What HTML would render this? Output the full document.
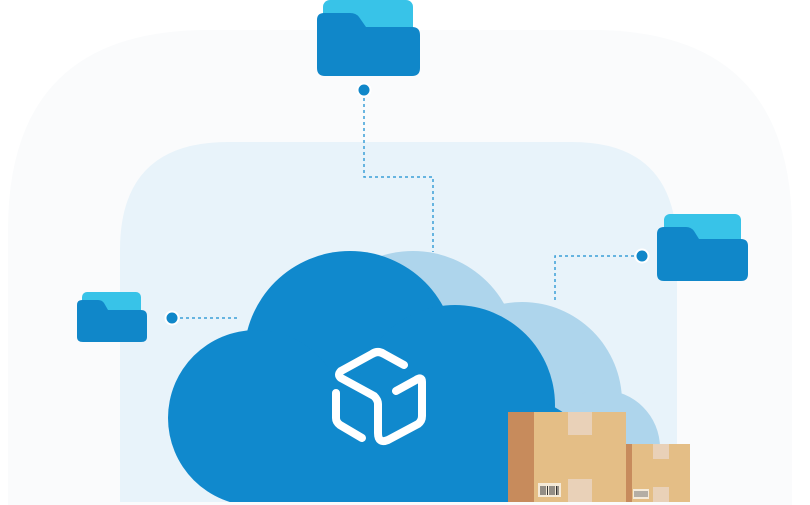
<!DOCTYPE html>
<html><head><meta charset="utf-8"><style>html,body{margin:0;padding:0;background:#fff}svg{display:block}</style></head>
<body>
<svg width="810" height="505" viewBox="0 0 810 505" xmlns="http://www.w3.org/2000/svg">
<path d="M8,505 L8,230 Q8,30 208,30 L592,30 Q792,30 792,230 L792,505 Z" fill="#fafbfc"/>
<path d="M120,502 L120,250 Q120,142 228,142 L572,142 Q677,142 677,250 L677,502 Z" fill="#e8f3fa"/>
<!-- connectors -->
<g stroke="#3aa0d8" stroke-width="1.5" fill="none" stroke-dasharray="3,3">
<path d="M364,98 L364,177 L433,177 L433,252"/>
<path d="M634,256 L555,256 L555,300"/>
<path d="M180,318 L238,318"/>
</g>
<g fill="#1087c9" stroke="#fff" stroke-width="2">
<circle cx="364" cy="90" r="6.5"/>
<circle cx="642" cy="256" r="6.5"/>
<circle cx="172" cy="318" r="6.5"/>
</g>
<!-- light cloud -->
<clipPath id="c"><rect x="0" y="0" width="810" height="502"/></clipPath>
<g clip-path="url(#c)" fill="#aed5ec">
<circle cx="413" cy="356" r="105"/>
<circle cx="522" cy="402" r="100"/>
<circle cx="602" cy="448" r="58"/>
<rect x="400" y="420" width="200" height="90"/>
</g>
<!-- main cloud -->
<g clip-path="url(#c)" fill="#1089cd">
<circle cx="350" cy="357" r="106"/>
<circle cx="256" cy="418" r="88"/>
<circle cx="455" cy="405" r="100"/>
<circle cx="525" cy="465" r="65"/>
<rect x="256" y="380" width="290" height="130"/>
</g>
<!-- cube icon -->
<g fill="none" stroke="#fff" stroke-width="8" stroke-linecap="round" stroke-linejoin="round">
<path d="M404,365 L384,354 Q378,350 372,354 L341,371 Q337,375 341,378 L374,396 Q378,400 378,404 L378,433 Q378,444 388,440 L418,424 Q422,421 422,416 L422,382 Q422,376 416,380 L396,391"/>
<path d="M336,393 L336,418 Q336,422 340,425 L362,438"/>
</g>
<!-- boxes -->
<rect x="508" y="412" width="118" height="90" fill="#e4be86"/>
<rect x="508" y="412" width="26" height="90" fill="#c78b5c"/>
<rect x="568" y="412" width="24" height="23" fill="#e9d1b8"/>
<rect x="568" y="479" width="24" height="23" fill="#e9d1b8"/>
<rect x="538" y="483" width="23" height="14" fill="#f5ead8"/>
<g stroke="#333" stroke-width="1"><path d="M541,486v9M543,486v9M545,486v9M547.5,486v9M550,486v9M552,486v9M554,486v9M556.5,486v9M558,486v9"/></g>
<rect x="626" y="444" width="64" height="58" fill="#e4be86"/>
<rect x="626" y="444" width="6" height="58" fill="#c78b5c"/>
<rect x="653" y="444" width="16" height="15" fill="#e9d1b8"/>
<rect x="653" y="487" width="16" height="15" fill="#e9d1b8"/>
<rect x="633" y="489" width="16" height="10" fill="#f5ead8"/>
<g stroke="#555" stroke-width="0.8"><path d="M635,491v6M637,491v6M639,491v6M641,491v6M643,491v6M645,491v6M647,491v6"/></g>
<!-- folders -->
<rect x="323" y="0" width="90" height="34" rx="7" fill="#38c3e8"/>
<path d="M324,13 L350,13 Q356,13 359,17 L366,27 L412,27 Q420,27 420,35 L420,68 Q420,76 412,76 L325,76 Q317,76 317,68 L317,20 Q317,13 324,13 Z" fill="#1087c9"/>
<rect x="664" y="214" width="77" height="34" rx="6" fill="#38c3e8"/>
<path d="M664,227 L686,227 Q691,227 694,231 L699,239 L741,239 Q748,239 748,246 L748,274 Q748,281 741,281 L664,281 Q657,281 657,274 L657,234 Q657,227 664,227 Z" fill="#1087c9"/>
<rect x="82" y="292" width="59" height="24" rx="5" fill="#38c3e8"/>
<path d="M82,300 L98,300 Q102,300 104,303 L108,310 L141,310 Q147,310 147,316 L147,337 Q147,342 141,342 L83,342 Q77,342 77,337 L77,305 Q77,300 82,300 Z" fill="#1087c9"/>
</svg>
</body></html>
